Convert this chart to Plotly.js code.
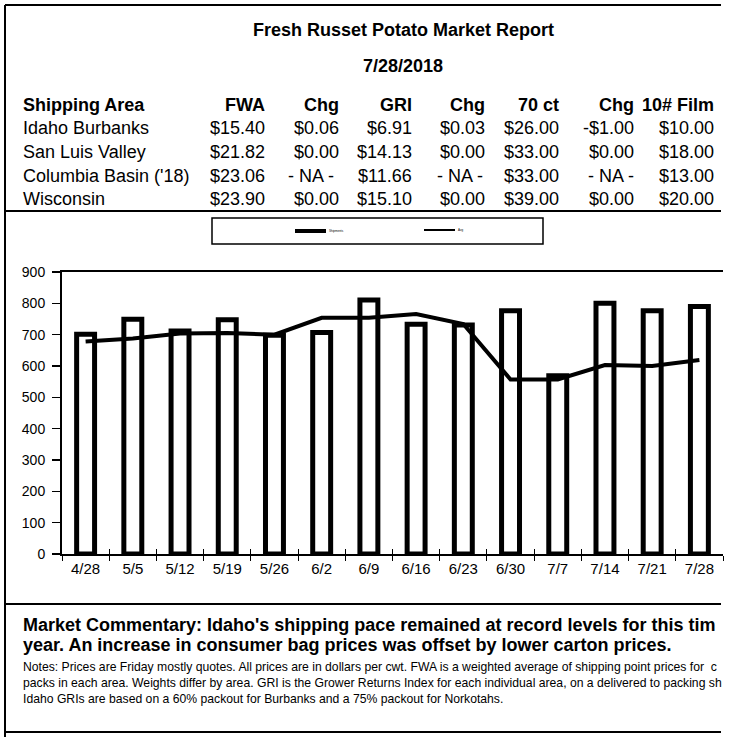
<!DOCTYPE html>
<html>
<head>
<meta charset="utf-8">
<script src="https://cdn.plot.ly/plotly-3.0.1.min.js"></script>
<style>
  html, body { margin: 0; padding: 0; background: #fff; }
  #chart { width: 756px; height: 737px; }
</style>
</head>
<body>
<div id="chart"></div>
<script>
// ---- Data ----
const reportTitle = "Fresh Russet Potato Market Report";
const reportDate = "7/28/2018";
const tableHeaders = ["Shipping Area", "FWA", "Chg", "GRI", "Chg", "70 ct", "Chg", "10# Film"];
const areas = ["Idaho Burbanks", "San Luis Valley", "Columbia Basin ('18)", "Wisconsin"];
const fwa = ["$15.40", "$21.82", "$23.06", "$23.90"];
const fwaChg = ["$0.06", "$0.00", "- NA -", "$0.00"];
const gri = ["$6.91", "$14.13", "$11.66", "$15.10"];
const griChg = ["$0.03", "$0.00", "- NA -", "$0.00"];
const ct70 = ["$26.00", "$33.00", "$33.00", "$39.00"];
const ct70Chg = ["-$1.00", "$0.00", "- NA -", "$0.00"];
const film10 = ["$10.00", "$18.00", "$13.00", "$20.00"];

const weeks = ["4/28", "5/5", "5/12", "5/19", "5/26", "6/2", "6/9", "6/16", "6/23", "6/30", "7/7", "7/14", "7/21", "7/28"];
const barValues = [701, 749, 712, 748, 698, 707, 811, 733, 731, 776, 569, 800, 776, 790];
const lineValues = [678, 688, 704, 705, 700, 754, 754, 766, 734, 557, 557, 603, 600, 619];
const legendNames = ["Shipments", "Avg"];

const commentary = [
  "Market Commentary: Idaho's shipping pace remained at record levels for this tim",
  "year. An increase in consumer bag prices was offset by lower carton prices."
];
const notes = [
  "Notes: Prices are Friday mostly quotes. All prices are in dollars per cwt. FWA is a weighted average of shipping point prices for \u00a0c",
  "packs in each area. Weights differ by area. GRI is the Grower Returns Index for each individual area, on a delivered to packing sh",
  "Idaho GRIs are based on a 60% packout for Burbanks and a 75% packout for Norkotahs."
];

// ---- Layout helpers (pixel -> paper) ----
const PL = 62, PR = 723, PT = 272, PB = 554;
const px = v => (v - PL) / (PR - PL);
const py = v => (PB - v) / (PB - PT);
const FONT = "Arial, 'Liberation Sans', sans-serif";

const annotations = [];
function txt(text, x, y, size, bold, xanchor) {
  annotations.push({
    xref: 'paper', yref: 'paper', x: px(x), y: py(y),
    xanchor: xanchor || 'left', yanchor: 'middle',
    text: bold ? '<b>' + text + '</b>' : text,
    showarrow: false, align: xanchor === 'right' ? 'right' : 'left',
    font: { family: FONT, size: size, color: '#000' }
  });
}

// Title & date
txt(reportTitle, 404, 30, 18, true, 'center');
txt(reportDate, 403, 66, 18, true, 'center');

// Table
const colRight = [267, 341, 414, 487, 561, 636, 716];
const naShift = [0, -5, 0, -2, 0, 0, 0];
const rowY = [128.5, 152, 175.5, 198.5];
txt(tableHeaders[0], 21, 105, 18, true, 'left');
for (let c = 1; c < tableHeaders.length; c++) txt(tableHeaders[c], colRight[c - 1], 105, 18, true, 'right');
const cols = [fwa, fwaChg, gri, griChg, ct70, ct70Chg, film10];
for (let r = 0; r < areas.length; r++) {
  txt(areas[r], 21, rowY[r], 18, false, 'left');
  cols.forEach((col, c) => {
    const v = col[r];
    txt(v, colRight[c] + (v === '- NA -' ? naShift[c] : 0), rowY[r], 18, false, 'right');
  });
}

// Legend texts (tiny)
txt(legendNames[0], 327, 231, 3, false, 'left');
txt(legendNames[1], 456, 230, 3, false, 'left');

// Commentary & notes
txt(commentary[0], 21, 625, 18, true, 'left');
txt(commentary[1], 21, 645, 18, true, 'left');
txt(notes[0], 21, 667, 12.2, false, 'left');
txt(notes[1], 21, 683, 12.2, false, 'left');
txt(notes[2], 21, 699, 12.2, false, 'left');

// Frame & legend shapes
function hline(x0, x1, y, w) {
  return { type: 'line', xref: 'paper', yref: 'paper', x0: px(x0), x1: px(x1), y0: py(y), y1: py(y), line: { color: '#000', width: w } };
}
const shapes = [
  hline(5, 721, 5, 2),
  hline(5, 721, 211, 2),
  hline(5, 721, 604, 2),
  hline(5, 721, 732, 2),
  { type: 'line', xref: 'paper', yref: 'paper', x0: px(5), x1: px(5), y0: py(5), y1: py(737), line: { color: '#000', width: 2 } },
  { type: 'rect', xref: 'paper', yref: 'paper', x0: px(212), x1: px(543), y0: py(218), y1: py(244), line: { color: '#000', width: 1.5 }, fillcolor: 'rgba(0,0,0,0)' },
  hline(295, 326, 231, 4),
  hline(424, 455, 230, 2)
];

const traces = [
  {
    type: 'bar', name: legendNames[0], x: weeks, y: barValues, xaxis: 'x', yaxis: 'y',
    marker: { color: '#fff', line: { color: '#000', width: 5 } },
    hoverinfo: 'x+y'
  },
  {
    type: 'scatter', mode: 'lines', name: legendNames[1], x: weeks, y: lineValues, xaxis: 'x2', yaxis: 'y',
    line: { color: '#000', width: 4 },
    hoverinfo: 'x+y'
  }
];

const layout = {
  width: 756, height: 737,
  margin: { l: PL, r: 756 - PR, t: PT, b: 737 - PB, pad: 0 },
  paper_bgcolor: '#fff', plot_bgcolor: '#fff',
  font: { family: FONT, color: '#000', size: 14 },
  showlegend: false,
  bargap: 0.62,
  xaxis: {
    type: 'category', range: [-0.5, 13.5], tickson: 'boundaries',
    ticks: 'outside', ticklen: 5, tickwidth: 1, tickcolor: '#000',
    showline: true, linewidth: 2, linecolor: '#000', mirror: true,
    showgrid: false, zeroline: false, tickfont: { size: 15, color: '#000' }
  },
  xaxis2: {
    type: 'category', range: [-0.5, 13.5], overlaying: 'x', anchor: 'y', tickson: 'boundaries',
    ticks: 'inside', ticklen: 5, tickwidth: 1, tickcolor: '#000',
    showticklabels: false, showline: false, showgrid: false, zeroline: false
  },
  yaxis: {
    range: [0, 900], dtick: 100, tick0: 0,
    ticks: 'outside', ticklen: 8, tickwidth: 1.5, tickcolor: '#000',
    showline: true, linewidth: 2, linecolor: '#000',
    showgrid: false, zeroline: false, tickfont: { size: 14, color: '#000' },
    ticklabelstandoff: 4
  },
  yaxis2: {
    range: [0, 35], dtick: 5, tick0: 0, overlaying: 'y', side: 'right', anchor: 'x',
    ticks: 'outside', ticklen: 5, tickwidth: 1, tickcolor: '#000',
    showticklabels: false, showline: false, showgrid: false, zeroline: false
  },
  shapes: shapes,
  annotations: annotations
};

Plotly.newPlot('chart', traces, layout, { displayModeBar: false, staticPlot: true });
</script>
</body>
</html>
